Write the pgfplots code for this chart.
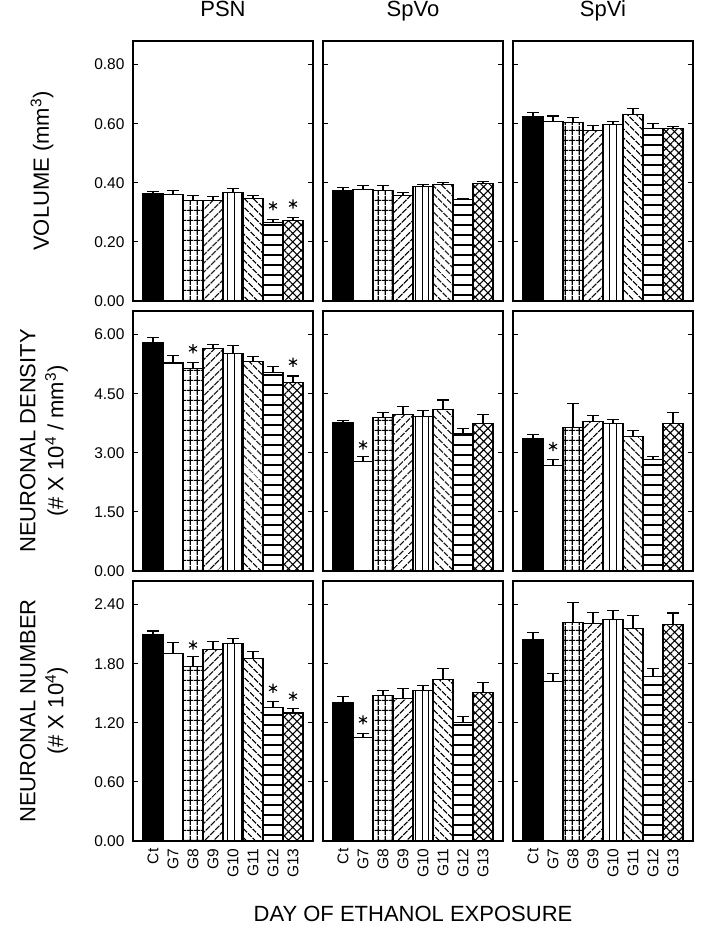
\documentclass[border=0pt]{standalone}
\usepackage{pgfplots}
\pgfplotsset{compat=1.18}
\usepackage{pgfplotstable}
\usepackage{fontspec}
\setmainfont{Liberation Sans}
\usetikzlibrary{patterns,patterns.meta}

\pgfdeclarepatternformonly{gridA}{\pgfpointorigin}{\pgfqpoint{6.7pt}{10pt}}{\pgfqpoint{6.7pt}{10pt}}{%
  \pgfsetlinewidth{1.1pt}%
  \pgfpathmoveto{\pgfqpoint{0pt}{5pt}}\pgfpathlineto{\pgfqpoint{6.7pt}{5pt}}%
  \pgfpathmoveto{\pgfqpoint{3.35pt}{0pt}}\pgfpathlineto{\pgfqpoint{3.35pt}{10pt}}%
  \pgfusepath{stroke}}

% Volume (mm^3)
\pgfplotstableread{
x psn psne spvo spvoe spvi spvie
0 0.362 0.008 0.373 0.011 0.624 0.014
1 0.359 0.016 0.376 0.014 0.607 0.019
2 0.341 0.015 0.375 0.015 0.603 0.017
3 0.341 0.014 0.358 0.009 0.578 0.016
4 0.366 0.016 0.388 0.007 0.598 0.010
5 0.348 0.009 0.395 0.005 0.631 0.022
6 0.267 0.009 0.342 0.005 0.585 0.015
7 0.271 0.011 0.399 0.004 0.585 0.006
}\voltab
% Neuronal density
\pgfplotstableread{
x psn psne spvo spvoe spvi spvie
0 5.79 0.14 3.76 0.06 3.36 0.11
1 5.28 0.19 2.79 0.12 2.68 0.15
2 5.14 0.16 3.90 0.13 3.64 0.61
3 5.65 0.11 3.98 0.20 3.80 0.14
4 5.51 0.21 3.93 0.15 3.75 0.09
5 5.31 0.14 4.09 0.25 3.41 0.15
6 5.03 0.17 3.49 0.13 2.82 0.09
7 4.78 0.17 3.74 0.24 3.75 0.27
}\dentab
% Neuronal number
\pgfplotstableread{
x psn psne spvo spvoe spvi spvie
0 2.095 0.037 1.410 0.060 2.050 0.070
1 1.905 0.115 1.054 0.041 1.620 0.085
2 1.770 0.100 1.480 0.050 2.220 0.200
3 1.946 0.078 1.450 0.100 2.210 0.110
4 2.007 0.047 1.525 0.055 2.250 0.090
5 1.850 0.075 1.640 0.110 2.160 0.130
6 1.356 0.064 1.200 0.060 1.670 0.080
7 1.300 0.044 1.505 0.105 2.200 0.115
}\numtab

\pgfplotsset{
  b0/.style={fill=black},
  b1/.style={fill=white},
  b2/.style={pattern=gridA},
  b3/.style={pattern={Lines[angle=45,distance=6.5pt,line width=1.35pt]}},
  b4/.style={pattern={Lines[angle=90,distance=6.7pt,line width=1.2pt]}},
  b5/.style={pattern={Lines[angle=-45,distance=6.5pt,line width=1.35pt]}},
  b6/.style={pattern={Lines[angle=0,distance=10pt,line width=1.2pt]}},
  b7/.style={pattern={Hatch[angle=45,distance=6pt,line width=1.1pt]}},
  mybar/.style={ybar, bar width=1, bar shift=0pt, draw=black, line width=1.1pt,
    error bars/.cd, y dir=plus, y explicit,
    error bar style={line width=1.1pt, black, solid},
    error mark options={rotate=90, line width=1.1pt, mark size=5.8pt, black},
    /pgfplots/.cd},
  star/.style={only marks, mark=asterisk, mark size=4.6pt, mark options={line width=1.1pt, black}},
  panel/.style={scale only axis, width=180pt, height=260pt,
    xmin=-1, xmax=8, ymin=0,
    axis line style={line width=1.4pt},
    xtick=\empty, ytick pos=both, tick align=inside,
    major tick length=5pt,
    ytick style={line width=1.1pt, black},
    yticklabel shift=5pt,
    yticklabel style={font=\fontsize{15.5}{18}\selectfont,
      /pgf/number format/.cd, fixed, fixed zerofill, precision=2, assume math mode=true},
    ylabel style={font=\fontsize{22}{28}\selectfont, align=center, anchor=center},
    title style={font=\fontsize{22}{26}\selectfont, at={(axis description cs:0.5,1)}, anchor=base, yshift=18pt},
  },
  vrow/.style={ymax=0.88, ytick={0,0.2,0.4,0.6,0.8}},
  drow/.style={ymax=6.6, ytick={0,1.5,3,4.5,6}},
  nrow/.style={ymax=2.64, ytick={0,0.6,1.2,1.8,2.4}},
  inner/.style={yticklabels={}},
  bottom/.style={xtick={0,...,7}, xticklabels={Ct,G7,G8,G9,G10,G11,G12,G13},
    xtick style={draw=none}, xticklabel shift=4pt,
    xticklabel style={rotate=90, anchor=east, font=\fontsize{15.5}{18}\selectfont}},
}

\newcommand\bars[3]{%
  \pgfplotsinvokeforeach{0,...,7}{%
    \addplot[b##1,mybar,restrict x to domain=##1:##1] table[x=x,y=#2,y error=#3]{#1};
  }%
}

\begin{document}
\begin{tikzpicture}
\path[use as bounding box] (0,0) rectangle (717pt,925pt);

% ---------- Row 1: volume ----------
\begin{axis}[panel, vrow, at={(133pt,624pt)}, anchor=south west, title={PSN},
  ylabel={VOLUME (mm\textsuperscript{3})},
  ylabel style={at={(axis description cs:-0.506,0.5)}}]
\bars{\voltab}{psn}{psne}
\addplot[star] coordinates {(6,0.322) (7,0.328)};
\end{axis}
\begin{axis}[panel, vrow, inner, at={(323pt,624pt)}, anchor=south west, title={SpVo}]
\bars{\voltab}{spvo}{spvoe}
\end{axis}
\begin{axis}[panel, vrow, inner, at={(513pt,624pt)}, anchor=south west, title={SpVi}]
\bars{\voltab}{spvi}{spvie}
\end{axis}

% ---------- Row 2: density ----------
\begin{axis}[panel, drow, at={(133pt,354pt)}, anchor=south west,
  ylabel={NEURONAL DENSITY\\(\# X 10\textsuperscript{4} / mm\textsuperscript{3})},
  ylabel style={at={(axis description cs:-0.494,0.5)}}]
\bars{\dentab}{psn}{psne}
\addplot[star] coordinates {(2,5.64) (7,5.30)};
\end{axis}
\begin{axis}[panel, drow, inner, at={(323pt,354pt)}, anchor=south west]
\bars{\dentab}{spvo}{spvoe}
\addplot[star] coordinates {(1,3.20)};
\end{axis}
\begin{axis}[panel, drow, inner, at={(513pt,354pt)}, anchor=south west]
\bars{\dentab}{spvi}{spvie}
\addplot[star] coordinates {(1,3.16)};
\end{axis}

% ---------- Row 3: number ----------
\begin{axis}[panel, nrow, bottom, at={(133pt,84pt)}, anchor=south west,
  ylabel={NEURONAL NUMBER\\(\# X 10\textsuperscript{4})},
  ylabel style={at={(axis description cs:-0.494,0.5)}}]
\bars{\numtab}{psn}{psne}
\addplot[star] coordinates {(2,1.99) (6,1.55) (7,1.47)};
\end{axis}
\begin{axis}[panel, nrow, inner, bottom, at={(323pt,84pt)}, anchor=south west,
  xlabel={DAY OF ETHANOL EXPOSURE},
  xlabel style={font=\fontsize{22}{26}\selectfont, at={(axis description cs:0.5,0)}, anchor=base, yshift=-80pt}]
\bars{\numtab}{spvo}{spvoe}
\addplot[star] coordinates {(1,1.23)};
\end{axis}
\begin{axis}[panel, nrow, inner, bottom, at={(513pt,84pt)}, anchor=south west]
\bars{\numtab}{spvi}{spvie}
\end{axis}
\end{tikzpicture}
\end{document}
